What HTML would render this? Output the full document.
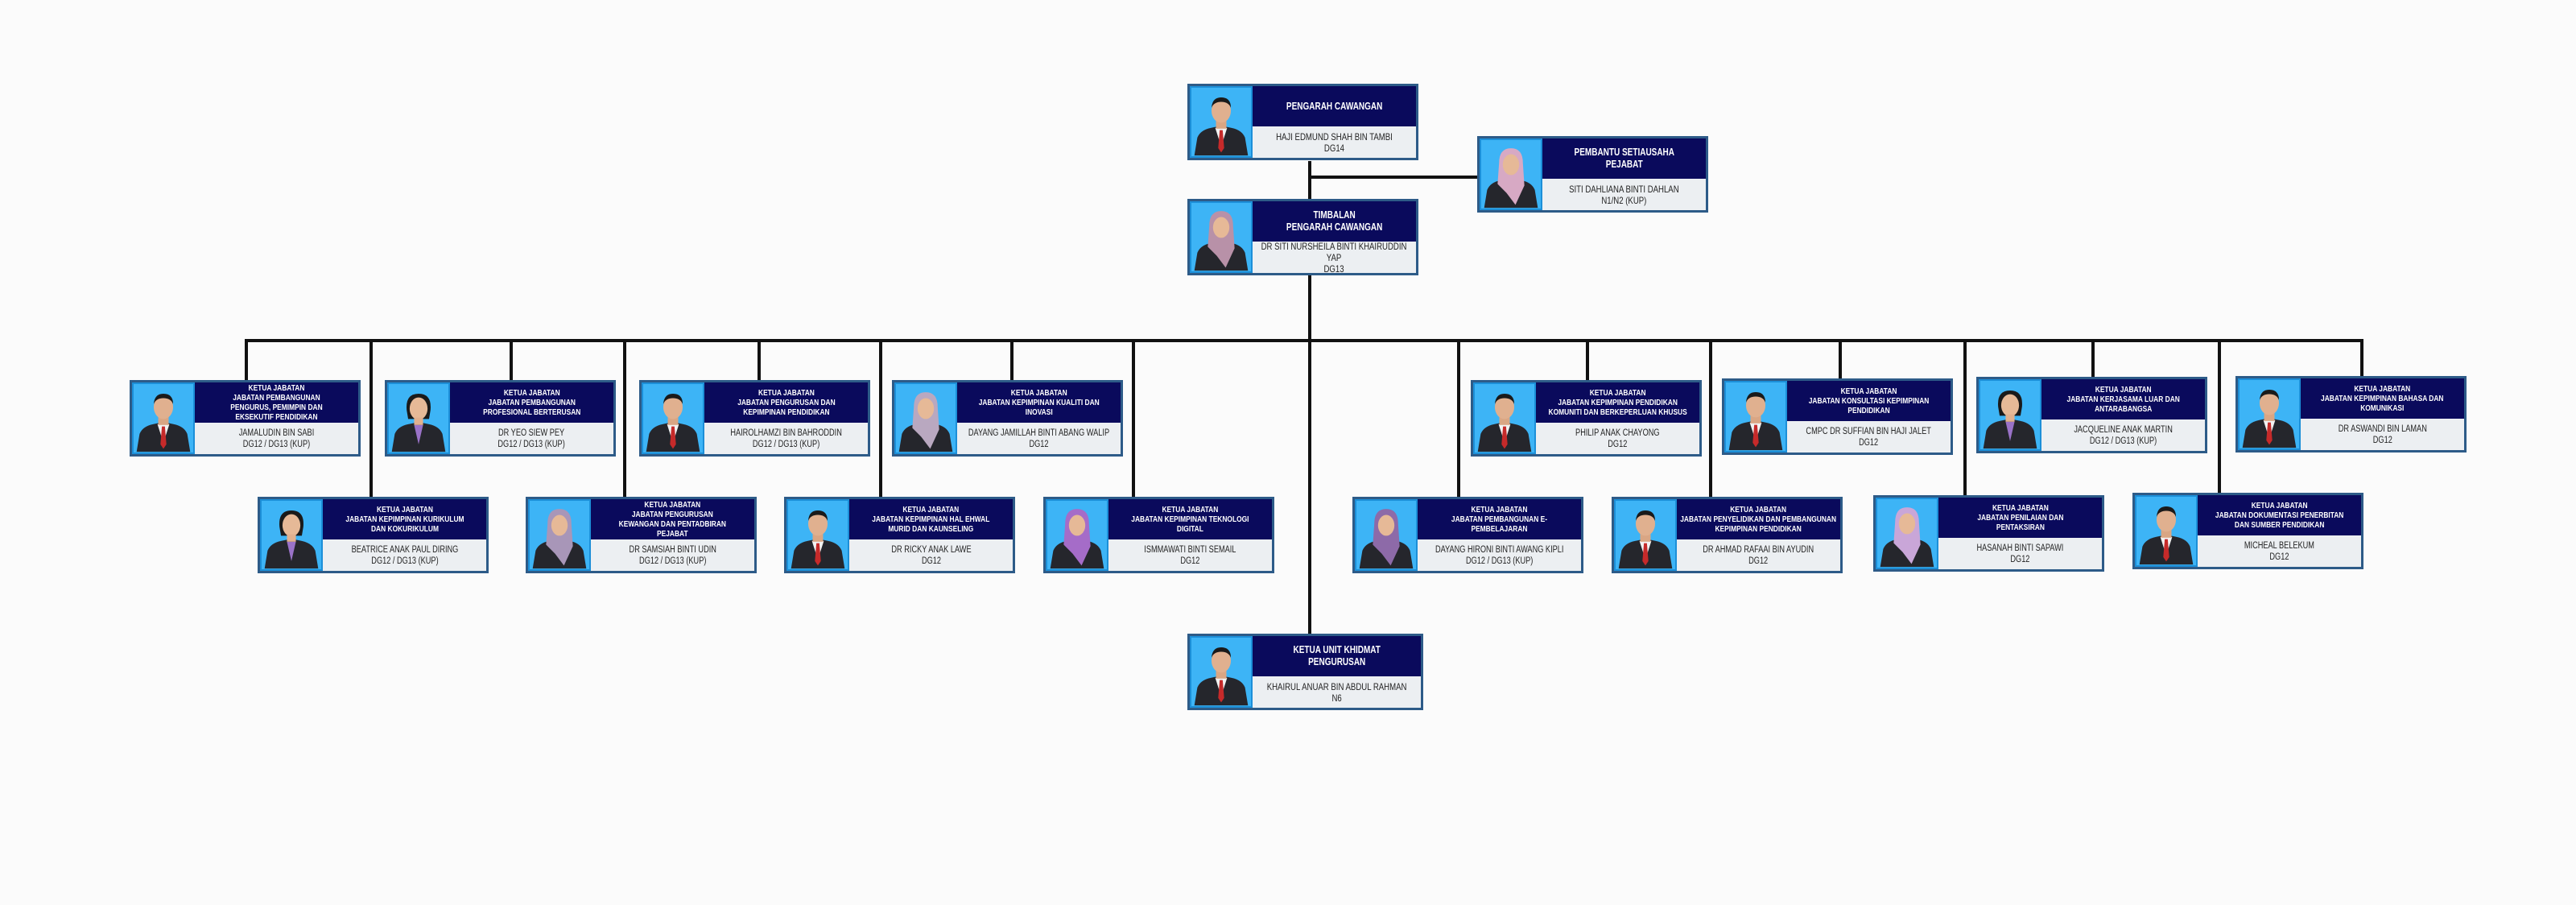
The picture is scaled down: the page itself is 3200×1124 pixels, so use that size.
<!DOCTYPE html>
<html><head><meta charset="utf-8">
<style>
html,body{margin:0;padding:0}
body{width:3200px;height:1124px;background:#fbfbfb;position:relative;overflow:hidden;font-family:"Liberation Sans",sans-serif}
.l{position:absolute;background:#111}
.c{position:absolute;height:89px;border:3px solid #2d5b88;background:#eceff2;box-sizing:content-box}
.p{position:absolute;left:0;top:0;bottom:0;width:78px;background:#3db4f6;border:2px solid #1c8fd8;box-sizing:border-box;overflow:hidden}
.p svg{position:absolute;left:0;bottom:0;width:100%;height:100%}
.h{position:absolute;left:78px;right:0;top:0;height:50px;background:#0a0a5c;color:#fff;font-weight:bold;font-size:10.5px;line-height:12px;display:flex;align-items:center;justify-content:center;text-align:center}
.n{position:absolute;left:78px;right:0;top:50px;bottom:0;color:#222;font-size:11.5px;line-height:14px;display:flex;align-items:center;justify-content:center;text-align:center}
.h span,.n span{display:inline-block;white-space:nowrap;transform:scaleX(.8)}
.big .h{font-size:12.5px;line-height:15px}
.big .n{font-size:12px;line-height:14px}
</style></head><body>
<svg width="0" height="0" style="position:absolute">
<defs>
<symbol id="m" viewBox="0 0 80 90"><path d="M4 90 L8 66 Q12 56 26 53 L40 50 L54 53 Q68 56 72 66 L76 90Z" fill="#25262c"/><path d="M32 53 L40 78 L48 53Z" fill="#f2f2f2"/><path d="M38 56 L42 56 L44 80 L40 86 L36 80Z" fill="#c62a2a"/><rect x="33" y="40" width="14" height="14" fill="#d9a684"/><ellipse cx="40" cy="30" rx="13" ry="16" fill="#e0b08f"/><path d="M27 26 Q28 12 40 12 Q53 12 53 26 Q50 18 40 18 Q30 18 27 26Z" fill="#1a1a1a"/></symbol>
<symbol id="f" viewBox="0 0 80 90"><path d="M4 90 L8 66 Q12 56 26 53 L40 50 L54 53 Q68 56 72 66 L76 90Z" fill="#25262c"/><path d="M24 30 Q24 10 40 10 Q56 10 56 30 L58 60 L46 86 L34 70 L22 58Z" fill="currentColor"/><ellipse cx="40" cy="32" rx="11" ry="14" fill="#e6b997"/></symbol>
<symbol id="w" viewBox="0 0 80 90"><path d="M4 90 L8 66 Q12 56 26 53 L40 50 L54 53 Q68 56 72 66 L76 90Z" fill="#25262c"/><path d="M34 54 L40 80 L46 54Z" fill="#9a72c8"/><path d="M24 34 Q22 12 40 12 Q58 12 56 34 L54 46 L26 46Z" fill="#1a1a1a"/><ellipse cx="40" cy="32" rx="12" ry="15" fill="#e6b997"/><rect x="34" y="44" width="12" height="10" fill="#e0b08f"/></symbol>
</defs></svg>

<div class="l" style="left:1625px;top:200px;width:4px;height:590px"></div>
<div class="l" style="left:1627px;top:218px;width:210px;height:4px"></div>
<div class="l" style="left:304px;top:421px;width:2632px;height:4px"></div>
<div class="l" style="left:304px;top:421px;width:4px;height:51px"></div>
<div class="l" style="left:633px;top:421px;width:4px;height:51px"></div>
<div class="l" style="left:941px;top:421px;width:4px;height:51px"></div>
<div class="l" style="left:1255px;top:421px;width:4px;height:51px"></div>
<div class="l" style="left:1970px;top:421px;width:4px;height:51px"></div>
<div class="l" style="left:2284px;top:421px;width:4px;height:49px"></div>
<div class="l" style="left:2598px;top:421px;width:4px;height:48px"></div>
<div class="l" style="left:2932px;top:421px;width:4px;height:47px"></div>
<div class="l" style="left:459px;top:421px;width:4px;height:196px"></div>
<div class="l" style="left:774px;top:421px;width:4px;height:196px"></div>
<div class="l" style="left:1092px;top:421px;width:4px;height:196px"></div>
<div class="l" style="left:1406px;top:421px;width:4px;height:196px"></div>
<div class="l" style="left:1810px;top:421px;width:4px;height:196px"></div>
<div class="l" style="left:2123px;top:421px;width:4px;height:196px"></div>
<div class="l" style="left:2439px;top:421px;width:4px;height:194px"></div>
<div class="l" style="left:2755px;top:421px;width:4px;height:191px"></div>

<div class="c big" style="left:1475px;top:104px;width:281px"><div class="p"><svg><use href="#m"/></svg></div><div class="h"><span>PENGARAH CAWANGAN</span></div><div class="n"><span>HAJI EDMUND SHAH BIN TAMBI<br>DG14</span></div></div>
<div class="c big" style="left:1835px;top:169px;width:281px"><div class="p" style="color:#d7a9c4"><svg><use href="#f"/></svg></div><div class="h"><span>PEMBANTU SETIAUSAHA<br>PEJABAT</span></div><div class="n"><span>SITI DAHLIANA BINTI DAHLAN<br>N1/N2 (KUP)</span></div></div>
<div class="c big" style="left:1475px;top:247px;width:281px"><div class="p" style="color:#b891a8"><svg><use href="#f"/></svg></div><div class="h"><span>TIMBALAN<br>PENGARAH CAWANGAN</span></div><div class="n"><span>DR SITI NURSHEILA BINTI KHAIRUDDIN<br>YAP<br>DG13</span></div></div>

<div class="c" style="left:161px;top:472px;width:281px"><div class="p"><svg><use href="#m"/></svg></div><div class="h"><span>KETUA JABATAN<br>JABATAN PEMBANGUNAN<br>PENGURUS, PEMIMPIN DAN<br>EKSEKUTIF PENDIDIKAN</span></div><div class="n"><span>JAMALUDIN BIN SABI<br>DG12 / DG13 (KUP)</span></div></div>
<div class="c" style="left:478px;top:472px;width:281px"><div class="p"><svg><use href="#w"/></svg></div><div class="h"><span>KETUA JABATAN<br>JABATAN PEMBANGUNAN<br>PROFESIONAL BERTERUSAN</span></div><div class="n"><span>DR YEO SIEW PEY<br>DG12 / DG13 (KUP)</span></div></div>
<div class="c" style="left:794px;top:472px;width:281px"><div class="p"><svg><use href="#m"/></svg></div><div class="h"><span>KETUA JABATAN<br>JABATAN PENGURUSAN DAN<br>KEPIMPINAN PENDIDIKAN</span></div><div class="n"><span>HAIROLHAMZI BIN BAHRODDIN<br>DG12 / DG13 (KUP)</span></div></div>
<div class="c" style="left:1108px;top:472px;width:281px"><div class="p" style="color:#b9a8c0"><svg><use href="#f"/></svg></div><div class="h"><span>KETUA JABATAN<br>JABATAN KEPIMPINAN KUALITI DAN<br>INOVASI</span></div><div class="n"><span>DAYANG JAMILLAH BINTI ABANG WALIP<br>DG12</span></div></div>
<div class="c" style="left:1827px;top:472px;width:281px"><div class="p"><svg><use href="#m"/></svg></div><div class="h"><span>KETUA JABATAN<br>JABATAN KEPIMPINAN PENDIDIKAN<br>KOMUNITI DAN BERKEPERLUAN KHUSUS</span></div><div class="n"><span>PHILIP ANAK CHAYONG<br>DG12</span></div></div>
<div class="c" style="left:2139px;top:470px;width:281px"><div class="p"><svg><use href="#m"/></svg></div><div class="h"><span>KETUA JABATAN<br>JABATAN KONSULTASI KEPIMPINAN<br>PENDIDIKAN</span></div><div class="n"><span>CMPC DR SUFFIAN BIN HAJI JALET<br>DG12</span></div></div>
<div class="c" style="left:2455px;top:468px;width:281px"><div class="p"><svg><use href="#w"/></svg></div><div class="h"><span>KETUA JABATAN<br>JABATAN KERJASAMA LUAR DAN<br>ANTARABANGSA</span></div><div class="n"><span>JACQUELINE ANAK MARTIN<br>DG12 / DG13 (KUP)</span></div></div>
<div class="c" style="left:2777px;top:467px;width:281px"><div class="p"><svg><use href="#m"/></svg></div><div class="h"><span>KETUA JABATAN<br>JABATAN KEPIMPINAN BAHASA DAN<br>KOMUNIKASI</span></div><div class="n"><span>DR ASWANDI BIN LAMAN<br>DG12</span></div></div>

<div class="c" style="left:320px;top:617px;width:281px"><div class="p"><svg><use href="#w"/></svg></div><div class="h"><span>KETUA JABATAN<br>JABATAN KEPIMPINAN KURIKULUM<br>DAN KOKURIKULUM</span></div><div class="n"><span>BEATRICE ANAK PAUL DIRING<br>DG12 / DG13 (KUP)</span></div></div>
<div class="c" style="left:653px;top:617px;width:281px"><div class="p" style="color:#a896b8"><svg><use href="#f"/></svg></div><div class="h"><span>KETUA JABATAN<br>JABATAN PENGURUSAN<br>KEWANGAN DAN PENTADBIRAN<br>PEJABAT</span></div><div class="n"><span>DR SAMSIAH BINTI UDIN<br>DG12 / DG13 (KUP)</span></div></div>
<div class="c" style="left:974px;top:617px;width:281px"><div class="p"><svg><use href="#m"/></svg></div><div class="h"><span>KETUA JABATAN<br>JABATAN KEPIMPINAN HAL EHWAL<br>MURID DAN KAUNSELING</span></div><div class="n"><span>DR RICKY ANAK LAWE<br>DG12</span></div></div>
<div class="c" style="left:1296px;top:617px;width:281px"><div class="p" style="color:#a56cc8"><svg><use href="#f"/></svg></div><div class="h"><span>KETUA JABATAN<br>JABATAN KEPIMPINAN TEKNOLOGI<br>DIGITAL</span></div><div class="n"><span>ISMMAWATI BINTI SEMAIL<br>DG12</span></div></div>
<div class="c" style="left:1680px;top:617px;width:281px"><div class="p" style="color:#8d6aa8"><svg><use href="#f"/></svg></div><div class="h"><span>KETUA JABATAN<br>JABATAN PEMBANGUNAN E-<br>PEMBELAJARAN</span></div><div class="n"><span>DAYANG HIRONI BINTI AWANG KIPLI<br>DG12 / DG13 (KUP)</span></div></div>
<div class="c" style="left:2002px;top:617px;width:281px"><div class="p"><svg><use href="#m"/></svg></div><div class="h"><span>KETUA JABATAN<br>JABATAN PENYELIDIKAN DAN PEMBANGUNAN<br>KEPIMPINAN PENDIDIKAN</span></div><div class="n"><span>DR AHMAD RAFAAI BIN AYUDIN<br>DG12</span></div></div>
<div class="c" style="left:2327px;top:615px;width:281px"><div class="p" style="color:#c9a6d8"><svg><use href="#f"/></svg></div><div class="h"><span>KETUA JABATAN<br>JABATAN PENILAIAN DAN<br>PENTAKSIRAN</span></div><div class="n"><span>HASANAH BINTI SAPAWI<br>DG12</span></div></div>
<div class="c" style="left:2649px;top:612px;width:281px"><div class="p"><svg><use href="#m"/></svg></div><div class="h"><span>KETUA JABATAN<br>JABATAN DOKUMENTASI PENERBITAN<br>DAN SUMBER PENDIDIKAN</span></div><div class="n"><span>MICHEAL BELEKUM<br>DG12</span></div></div>

<div class="c big" style="left:1475px;top:787px;width:287px"><div class="p"><svg><use href="#m"/></svg></div><div class="h"><span>KETUA UNIT KHIDMAT<br>PENGURUSAN</span></div><div class="n"><span>KHAIRUL ANUAR BIN ABDUL RAHMAN<br>N6</span></div></div>
</body></html>
